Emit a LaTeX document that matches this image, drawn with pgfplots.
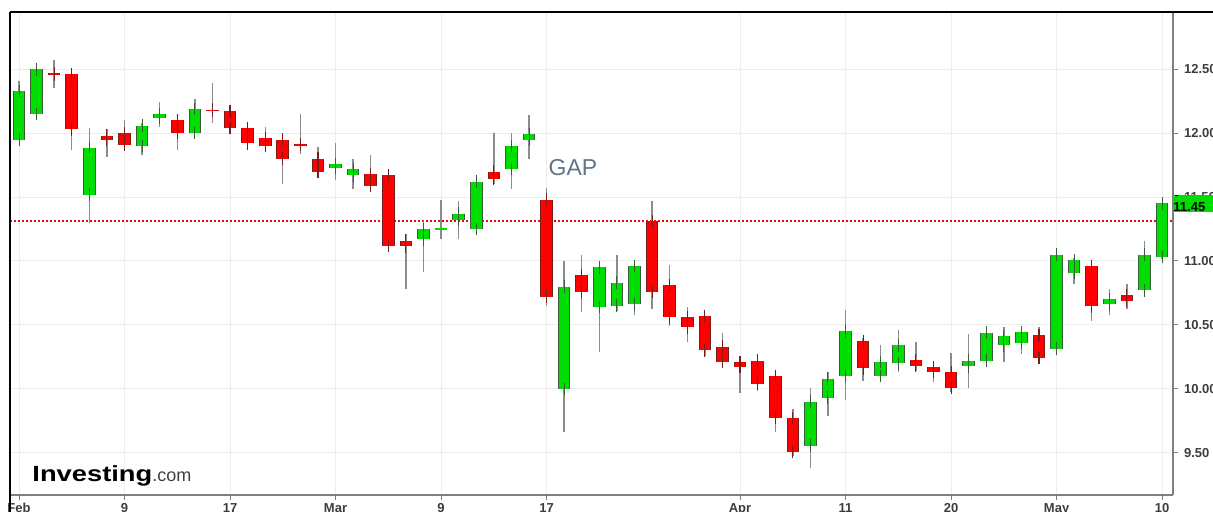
\documentclass[border=0pt]{standalone}
\usepackage{fontspec}
\setmainfont{Liberation Sans}
\usepackage{pgfplots}
\usepackage{pgfplotstable}
\pgfplotsset{compat=1.18}
\definecolor{greenF}{RGB}{0,221,0}
\definecolor{greenB}{RGB}{55,95,55}
\definecolor{redF}{RGB}{255,0,0}
\definecolor{redB}{RGB}{120,28,28}
\definecolor{wickc}{RGB}{140,140,140}
\definecolor{gridc}{RGB}{237,237,237}
\definecolor{axisc}{RGB}{128,128,128}
\definecolor{labc}{RGB}{60,60,60}
\definecolor{gapc}{RGB}{96,116,136}

% green (up) candles: index, open, high, low, close
\pgfplotstableread{
i O H L C
0 11.95 12.41 11.95 12.33
1 12.15 12.51 12.14 12.50
4 11.52 12.04 11.30 11.885
7 11.90 12.08 11.83 12.06
8 12.12 12.24 12.05 12.15
10 12.00 12.27 12.00 12.19
18 11.73 11.92 11.63 11.76
19 11.67 11.80 11.56 11.72
23 11.17 11.31 10.91 11.25
25 11.32 11.47 11.17 11.37
26 11.25 11.66 11.25 11.62
28 11.72 12.00 11.56 11.90
29 11.95 12.14 11.80 11.99
31 10.00 11.00 9.66 10.80
33 10.64 10.99 10.29 10.95
34 10.65 11.05 10.61 10.83
35 10.66 10.96 10.58 10.96
45 9.555 10.01 9.38 9.90
46 9.93 10.13 9.79 10.08
47 10.10 10.615 9.91 10.45
49 10.10 10.34 10.07 10.21
50 10.20 10.46 10.13 10.34
54 10.175 10.425 10.005 10.22
55 10.22 10.44 10.175 10.44
56 10.34 10.48 10.21 10.41
57 10.36 10.48 10.27 10.445
59 10.315 11.07 10.29 11.05
60 10.905 11.02 10.82 11.005
62 10.66 10.78 10.58 10.70
64 10.77 11.16 10.75 11.05
65 11.03 11.45 11.015 11.45
}\upT

% red (down) candles
\pgfplotstableread{
i O H L C
2 12.467 12.57 12.35 12.460
3 12.46 12.50 11.87 12.03
5 11.98 12.03 11.81 11.95
6 12.00 12.10 11.87 11.91
9 12.10 12.14 11.87 12.00
11 12.183 12.39 12.08 12.176
12 12.17 12.22 11.99 12.04
13 12.04 12.09 11.91 11.92
14 11.96 12.05 11.90 11.90
15 11.95 11.96 11.60 11.80
16 11.914 12.15 11.84 11.907
17 11.80 11.89 11.70 11.70
20 11.68 11.83 11.59 11.59
21 11.67 11.71 11.11 11.12
22 11.16 11.21 10.78 11.115
27 11.70 12.00 11.60 11.645
30 11.48 11.57 10.65 10.72
32 10.89 11.05 10.60 10.76
36 11.31 11.47 10.625 10.76
37 10.81 10.97 10.49 10.56
38 10.56 10.64 10.365 10.48
39 10.57 10.57 10.26 10.30
40 10.33 10.44 10.21 10.21
41 10.21 10.24 9.97 10.17
42 10.22 10.26 9.98 10.04
43 10.10 10.10 9.66 9.77
44 9.77 9.84 9.475 9.505
48 10.375 10.40 10.06 10.16
51 10.225 10.365 10.14 10.18
52 10.17 10.215 10.055 10.13
53 10.13 10.28 9.975 10.01
58 10.42 10.48 10.21 10.24
61 10.96 10.96 10.53 10.645
63 10.73 10.82 10.625 10.69
}\dnT

% unchanged (flat) candles
\pgfplotstableread{
i O H L C
24 11.25 11.48 11.17 11.25
}\flatT

\begin{document}
\begin{tikzpicture}
\begin{axis}[
  at={(0pt,0pt)}, anchor=south west,
  scale only axis, width=581.5pt, height=241.5pt,
  xmin=-0.512, xmax=65.62, ymin=9.169, ymax=12.948,
  axis x line*=bottom, axis y line*=right,
  axis line style={draw=axisc, line width=0.7pt},
  clip=false,
  xtick={0,6,12,18,24,30,41,47,53,59,65},
  xticklabels={Feb,9,17,Mar,9,17,Apr,11,20,May,10},
  ytick={9.5,10,10.5,11,11.5,12,12.5},
  tick align=outside, major tick length=2.5pt,
  tick style={draw=axisc, line width=0.5pt},
  grid=major, major grid style={draw=gridc, line width=0.5pt},
  /pgf/number format/.cd, fixed, fixed zerofill, precision=2, assume math mode=true,
  /pgfplots/.cd,
  ticklabel style={font=\bfseries\fontsize{6.5}{7}\selectfont, text=labc},
  yticklabel style={anchor=west, xshift=-0.5pt},
  xticklabel style={anchor=north, yshift=1.8pt},
]
% reference line
\addplot[draw=red, line width=0.6pt, dash pattern=on 1.2pt off 0.8pt, no markers, forget plot]
  coordinates {(-0.512,11.3125) (65.62,11.3125)};

% wicks
\addplot[draw=none, no markers, forget plot,
  error bars/.cd, y dir=both, y explicit, error mark=none,
  error bar style={draw=wickc, line width=0.7pt}]
  table[x=i, y expr={(\thisrow{H}+\thisrow{L})/2}, y error expr={(\thisrow{H}-\thisrow{L})/2}] {\upT};
\addplot[draw=none, no markers, forget plot,
  error bars/.cd, y dir=both, y explicit, error mark=none,
  error bar style={draw=wickc, line width=0.7pt}]
  table[x=i, y expr={(\thisrow{H}+\thisrow{L})/2}, y error expr={(\thisrow{H}-\thisrow{L})/2}] {\dnT};
\addplot[draw=none, no markers, forget plot,
  error bars/.cd, y dir=both, y explicit, error mark=none,
  error bar style={draw=wickc, line width=0.7pt}]
  table[x=i, y expr={(\thisrow{H}+\thisrow{L})/2}, y error expr={(\thisrow{H}-\thisrow{L})/2}] {\flatT};

% green bodies
\addplot[draw=none, no markers, forget plot,
  error bars/.cd, y dir=both, y explicit, error mark=none,
  error bar style={draw=greenB, line width=6.3pt}]
  table[x=i, y expr={(\thisrow{O}+\thisrow{C})/2}, y error expr={abs(\thisrow{C}-\thisrow{O})/2}] {\upT};
\addplot[draw=none, no markers, forget plot,
  error bars/.cd, y dir=both, y explicit, error mark=-,
  error mark options={draw=greenB, line width=0.5pt, mark size=3.15pt},
  error bar style={draw=greenF, line width=5.3pt}]
  table[x=i, y expr={(\thisrow{O}+\thisrow{C})/2}, y error expr={abs(\thisrow{C}-\thisrow{O})/2}] {\upT};

% red bodies
\addplot[draw=none, no markers, forget plot,
  error bars/.cd, y dir=both, y explicit, error mark=none,
  error bar style={draw=redB, line width=6.3pt}]
  table[x=i, y expr={(\thisrow{O}+\thisrow{C})/2}, y error expr={abs(\thisrow{C}-\thisrow{O})/2}] {\dnT};
\addplot[draw=none, no markers, forget plot,
  error bars/.cd, y dir=both, y explicit, error mark=-,
  error mark options={draw=redB, line width=0.55pt, mark size=3.15pt},
  error bar style={draw=redF, line width=5.3pt}]
  table[x=i, y expr={(\thisrow{O}+\thisrow{C})/2}, y error expr={abs(\thisrow{C}-\thisrow{O})/2}] {\dnT};

% flat candle
\addplot[only marks, mark=-, mark size=3.15pt, mark options={draw=greenF, line width=0.6pt}, forget plot]
  table[x=i, y=C] {\flatT};

% annotations
\node[text=gapc, font=\fontsize{11.5}{12}\selectfont] at (axis cs:31.5,11.728) {GAP};
\node[anchor=west, fill=greenF, inner sep=0pt, minimum height=8pt, text width=20pt, align=left,
  font=\bfseries\fontsize{6.5}{7}\selectfont] at (axis cs:65.62,11.45) {\hspace{1pt}\rule[0.25ex]{1.5pt}{0.5pt}\hspace{2.2pt}11.45};
\end{axis}
% frame lines
\draw[black, line width=1pt] (0pt,-9pt) -- (0pt,241.5pt);
\draw[black, line width=0.7pt] (0pt,241.5pt) -- (602pt,241.5pt);
% logo
\node[anchor=base west, inner sep=0pt, xscale=1.24, font=\bfseries\fontsize{11}{12}\selectfont] at (11pt,7pt) {Investing};
\node[anchor=base west, inner sep=0pt, text=black!75, font=\fontsize{9}{10}\selectfont] at (71pt,7pt) {.com};
\pgfresetboundingbox
\path[use as bounding box] (-5pt,-8pt) rectangle (601.5pt,247.5pt);
\end{tikzpicture}
\end{document}
